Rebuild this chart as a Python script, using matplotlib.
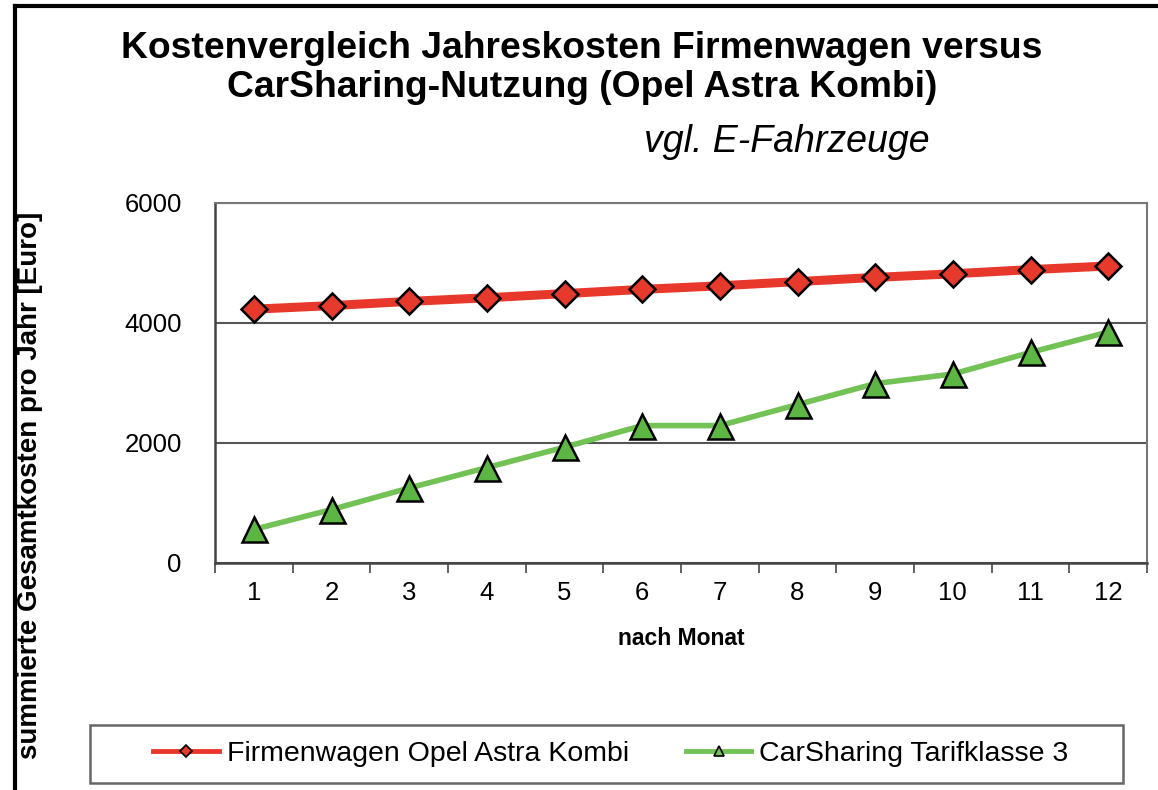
import matplotlib.pyplot as plt
import numpy as np
from matplotlib.lines import Line2D
from matplotlib.patches import Rectangle

plt.rcParams['font.family'] = ['Liberation Sans', 'DejaVu Sans']

# data
monate = [1, 2, 3, 4, 5, 6, 7, 8, 9, 10, 11, 12]
firmenwagen = [4230, 4290, 4360, 4420, 4490, 4560, 4620, 4690, 4760, 4820, 4890, 4950]
carsharing = [560, 890, 1250, 1590, 1930, 2290, 2290, 2640, 2990, 3150, 3510, 3850]
yticks = [0, 2000, 4000, 6000]

rot = '#e8372b'
gruen = '#72c255'

W, H = 1158, 790
fig = plt.figure(figsize=(W/100, H/100), dpi=100)
ax = fig.add_axes([215/W, 1-563/H, (1147-215)/W, (563-203)/H])

ax.plot(monate, firmenwagen, color=rot, lw=6.5, zorder=3)
ax.plot(monate, firmenwagen, ls='none', marker='D', ms=13.5, mfc='#e53a2c',
        mec='black', mew=1.8, zorder=4)
ax.plot(monate, carsharing, color=gruen, lw=4, zorder=3)
ax.plot(monate, carsharing, ls='none', marker='^', ms=18, mfc='#5db543',
        mec='black', mew=1.8, zorder=4)

ax.set_xlim(0.5, 12.5)
ax.set_ylim(0, 6000)

# major ticks between categories, labels in the middle
ax.set_xticks(np.arange(0.5, 13, 1))
ax.set_xticklabels([])
ax.set_xticks(monate, minor=True)
ax.set_xticklabels([str(m) for m in monate], minor=True, fontsize=18.5)
ax.tick_params(axis='x', which='major', direction='out', length=7, width=1.3, color='#555555')
ax.tick_params(axis='x', which='minor', length=0, pad=13)

ax.set_yticks(yticks)
ax.set_yticklabels([str(v) for v in yticks], fontsize=18.5)
ax.tick_params(axis='y', length=0, pad=24)

ax.grid(axis='y', color='#555555', lw=1.5)
ax.set_axisbelow(True)
for s in ['top', 'right']:
    ax.spines[s].set_color('#777777')
    ax.spines[s].set_linewidth(1.5)
for s in ['left', 'bottom']:
    ax.spines[s].set_color('#444444')
    ax.spines[s].set_linewidth(1.8)

ax.set_xlabel('nach Monat', fontsize=16.5, fontweight='bold', labelpad=16)
fig.text(30/W, 1-485/H, 'summierte Gesamtkosten pro Jahr [Euro]', rotation=90,
         fontsize=20, fontweight='bold', ha='center', va='center')

fig.text(582/W, 1-68/H, 'Kostenvergleich Jahreskosten Firmenwagen versus\nCarSharing-Nutzung (Opel Astra Kombi)',
         fontsize=26.8, fontweight='bold', ha='center', va='center', linespacing=1.17)
fig.text(787/W, 1-142/H, 'vgl. E-Fahrzeuge', fontsize=27, style='italic', ha='center', va='center')

# outer frame (only top and left visible)
fig.add_artist(Line2D([15/W, 1], [1-6/H, 1-6/H], color='black', lw=3))
fig.add_artist(Line2D([15/W, 15/W], [0, 1-6/H], color='black', lw=3))

# legend box
fig.add_artist(Rectangle((90/W, 1-783/H), (1123-90)/W, (783-725)/H, transform=fig.transFigure,
                         fill=False, edgecolor='#666666', lw=1.8))
handles = [Line2D([], [], color=rot, lw=3.5, marker='D', ms=6, mfc=rot, mec='black', mew=1.2),
           Line2D([], [], color=gruen, lw=3.5, marker='^', ms=7, mfc=gruen, mec='black', mew=1.2)]
fig.legend(handles, ['Firmenwagen Opel Astra Kombi', 'CarSharing Tarifklasse 3'],
           loc='center', bbox_to_anchor=(611/W, 1-754/H), ncol=2, fontsize=20.5,
           frameon=False, handlelength=2.3, handletextpad=0.28, columnspacing=2.0,
           borderpad=0.2)

fig.savefig('out.png', dpi=100)
